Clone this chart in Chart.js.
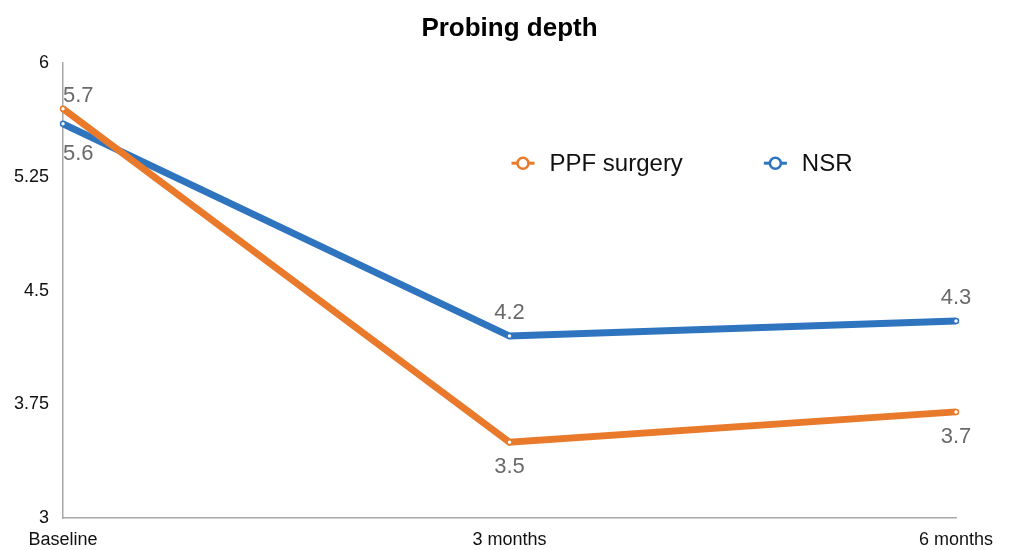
<!DOCTYPE html>
<html>
<head>
<meta charset="utf-8">
<script src="https://cdn.jsdelivr.net/npm/chart.js@4.4.0/dist/chart.umd.min.js"></script>
<style>
  html, body { margin: 0; padding: 0; background: #fff; }
  #wrap { width: 1009px; height: 550px; }
</style>
</head>
<body>
<div id="wrap"><canvas id="chart" width="1009" height="550"></canvas></div>
<script>
// Data
const categories = ['Baseline', '3 months', '6 months'];
const ppfValues = [5.7, 3.5, 3.7];
const nsrValues = [5.6, 4.2, 4.3];
const yTicks = [3, 3.75, 4.5, 5.25, 6];

const ORANGE = '#e97a2c';
const BLUE = '#2f74be';
const FONT = '"Liberation Sans", Arial, Helvetica, sans-serif';

// where each value label sits relative to its point (negative = above)
const labelOffsets = [
    [-13, 25, 25],
    [30, -23, -23]
];

// value labels on the points
const valueLabels = {
    id: 'valueLabels',
    afterDatasetsDraw(chart) {
        const ctx = chart.ctx;
        ctx.save();
        ctx.font = '22px ' + FONT;
        ctx.fillStyle = '#6a6a6a';
        ctx.textBaseline = 'middle';
        chart.data.datasets.forEach((ds, di) => {
            const meta = chart.getDatasetMeta(di);
            meta.data.forEach((pt, i) => {
                ctx.textAlign = i === 0 ? 'left' : 'center';
                ctx.fillText(String(ds.data[i]), pt.x, pt.y + labelOffsets[di][i]);
            });
        });
        ctx.restore();
    }
};

// legend drawn inside the plot, line + hollow circle marker
const innerLegend = {
    id: 'innerLegend',
    afterDraw(chart) {
        const ctx = chart.ctx;
        const area = chart.chartArea;
        const y = area.top + 100;
        let x = chart.scales.x.getPixelForValue(1) + 2;
        ctx.save();
        ctx.font = '24px ' + FONT;
        ctx.textBaseline = 'middle';
        ctx.textAlign = 'left';
        chart.data.datasets.forEach((ds) => {
            ctx.strokeStyle = ds.borderColor;
            ctx.lineWidth = 3;
            ctx.beginPath();
            ctx.moveTo(x, y);
            ctx.lineTo(x + 23, y);
            ctx.stroke();
            ctx.beginPath();
            ctx.arc(x + 11.5, y, 5.5, 0, Math.PI * 2);
            ctx.fillStyle = '#fff';
            ctx.fill();
            ctx.lineWidth = 2.5;
            ctx.stroke();
            ctx.fillStyle = '#111';
            ctx.fillText(ds.label, x + 38, y + 1);
            x += 38 + ctx.measureText(ds.label).width + 81;
        });
        ctx.restore();
    }
};

const ctx = document.getElementById('chart').getContext('2d');
const chart = new Chart(ctx, {
    type: 'line',
    data: {
        labels: categories,
        datasets: [
            {
                label: 'PPF surgery',
                data: ppfValues,
                borderColor: ORANGE,
                backgroundColor: '#fff',
                borderWidth: 7,
                pointRadius: 2.5,
                pointBorderWidth: 1.5,
                pointBackgroundColor: '#fff',
                pointBorderColor: ORANGE,
                tension: 0
            },
            {
                label: 'NSR',
                data: nsrValues,
                borderColor: BLUE,
                backgroundColor: '#fff',
                borderWidth: 7,
                pointRadius: 2.5,
                pointBorderWidth: 1.5,
                pointBackgroundColor: '#fff',
                pointBorderColor: BLUE,
                tension: 0
            }
        ]
    },
    options: {
        responsive: false,
        animation: false,
        layout: { padding: { left: 0, right: 53, top: 0, bottom: 0 } },
        scales: {
            x: {
                offset: false,
                afterFit: (axis) => { axis.height = 32; },
                grid: { display: false, drawTicks: false },
                border: { display: true, color: '#a8a8a8', width: 1.5 },
                ticks: { color: '#111', font: { family: FONT, size: 18 }, padding: 11, maxRotation: 0, autoSkip: false }
            },
            y: {
                min: 3,
                max: 6,
                afterBuildTicks: (axis) => { axis.ticks = yTicks.map(v => ({ value: v })); },
                afterFit: (axis) => { axis.width = 63; },
                grid: { display: false, drawTicks: false },
                border: { display: true, color: '#a8a8a8', width: 1.5 },
                ticks: { color: '#111', font: { family: FONT, size: 18 }, padding: 14, callback: (v) => String(v) }
            }
        },
        plugins: {
            legend: { display: false },
            tooltip: { enabled: false },
            title: {
                display: true,
                fullSize: false,
                text: 'Probing depth',
                color: '#000',
                font: { family: FONT, size: 26, weight: 'bold' },
                padding: { top: 13, bottom: 19 }
            }
        }
    },
    plugins: [valueLabels, innerLegend]
});
</script>
</body>
</html>
